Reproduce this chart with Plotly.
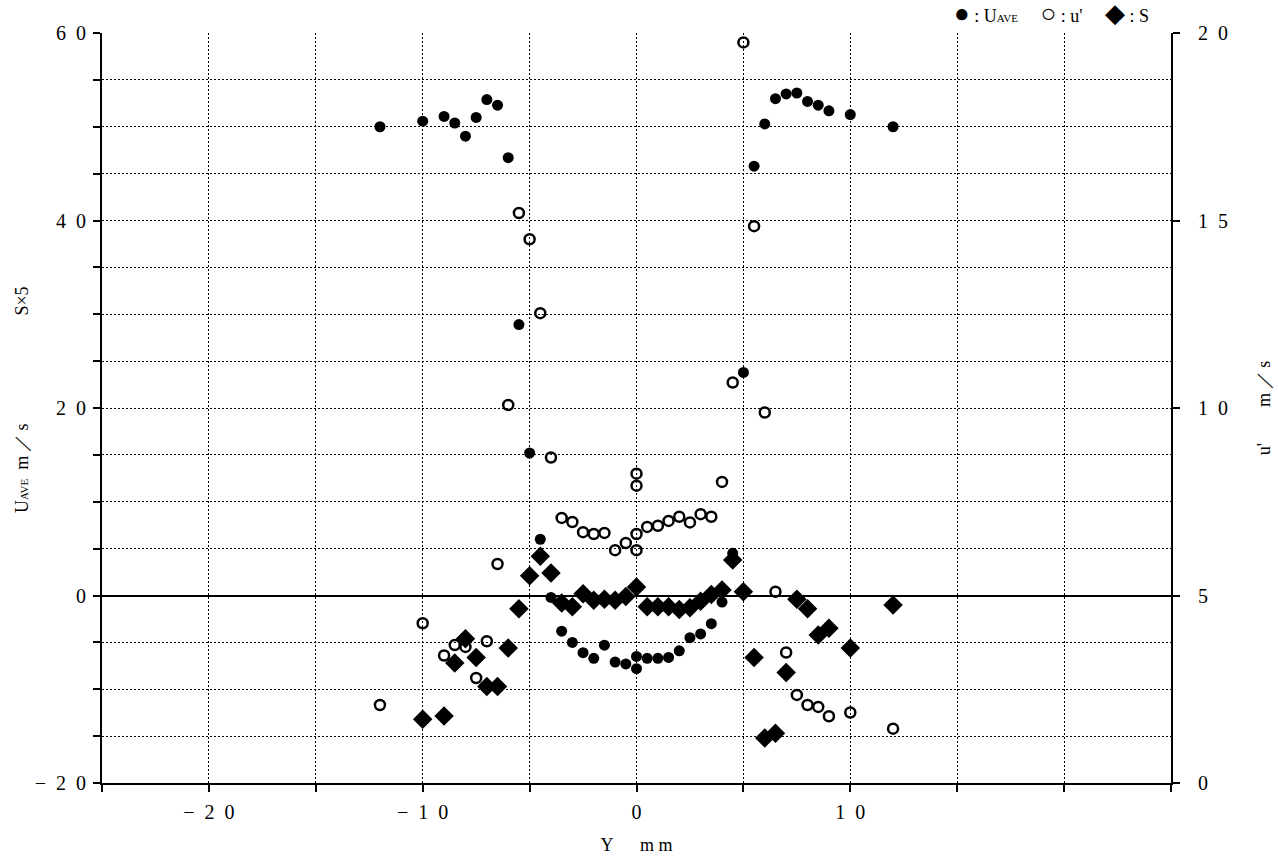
import plotly.graph_objects as go

# ---- data ----
# U_AVE  (m/s, left axis)
x_u = [-12, -10, -9, -8.5, -8, -7.5, -7, -6.5, -6, -5.5, -5, -4.5, -4, -3.5, -3, -2.5, -2, -1.5, -1, -0.5,
       0, 0, 0.5, 1, 1.5, 2, 2.5, 3, 3.5, 4, 4.5, 5, 5.5, 6, 6.5, 7, 7.5, 8, 8.5, 9, 10, 12]
u_ave = [50.0, 50.6, 51.1, 50.4, 49.0, 51.0, 52.9, 52.3, 46.7, 28.9, 15.2, 6.0, -0.2, -3.8, -5.0, -6.1, -6.7, -5.3, -7.1, -7.3,
         -6.5, -7.8, -6.7, -6.7, -6.6, -5.9, -4.5, -4.1, -3.0, -0.7, 4.5, 23.8, 45.8, 50.3, 53.0, 53.5, 53.6, 52.7, 52.3, 51.7, 51.3, 50.0]

# u'  (m/s, right axis)
x_up = [-12, -10, -9, -8.5, -8, -7.5, -7, -6.5, -6, -5.5, -5, -4.5, -4, -3.5, -3, -2.5, -2, -1.5, -1, -0.5,
        0, 0, 0, 0, 0.5, 1, 1.5, 2, 2.5, 3, 3.5, 4, 4.5, 5, 5.5, 6, 6.5, 7, 7.5, 8, 8.5, 9, 10, 12]
u_prime = [2.08, 4.26, 3.40, 3.68, 3.63, 2.80, 3.78, 5.84, 10.08, 15.20, 14.50, 12.53, 8.68, 7.07, 6.96, 6.69, 6.64, 6.67, 6.21, 6.40,
           8.25, 7.93, 6.64, 6.21, 6.83, 6.86, 6.99, 7.10, 6.95, 7.17, 7.10, 8.03, 10.68, 19.75, 14.85, 9.88, 5.10, 3.48, 2.35, 2.08, 2.03, 1.78, 1.88, 1.45]

# S x 5  (left axis)
x_s = [-10, -9, -8.5, -8, -7.5, -7, -6.5, -6, -5.5, -5, -4.5, -4, -3.5, -3, -2.5, -2, -1.5, -1, -0.5, 0,
       0.5, 1, 1.5, 2, 2.5, 3, 3.5, 4, 4.5, 5, 5.5, 6, 6.5, 7, 7.5, 8, 8.5, 9, 10, 12]
s_x5 = [-13.2, -12.85, -7.2, -4.6, -6.6, -9.7, -9.7, -5.6, -1.4, 2.1, 4.2, 2.4, -0.8, -1.2, 0.2, -0.5, -0.4, -0.5, -0.1, 0.9,
        -1.2, -1.2, -1.2, -1.5, -1.3, -0.6, 0.1, 0.6, 3.8, 0.4, -6.6, -15.2, -14.7, -8.2, -0.4, -1.4, -4.2, -3.5, -5.6, -1.0]

# ticks
SP = "\u2002"
x_tick_vals = [-25, -20, -15, -10, -5, 0, 5, 10, 15, 20, 25]
x_tick_text = ["", "\u2212" + SP + "2" + SP + "0", "", "\u2212" + SP + "1" + SP + "0", "", "0", "", "1" + SP + "0", "", "", ""]
y_tick_vals = [-20, -15, -10, -5, 0, 5, 10, 15, 20, 25, 30, 35, 40, 45, 50, 55, 60]
y_tick_text = ["\u2212" + SP + "2" + SP + "0", "", "", "", "0", "", "", "", "2" + SP + "0", "", "", "",
               "4" + SP + "0", "", "", "", "6" + SP + "0"]
y2_tick_vals = [0, 5, 10, 15, 20]
y2_tick_text = ["0", "5", "1" + SP + "0", "1" + SP + "5", "2" + SP + "0"]

FONT = "Liberation Serif, DejaVu Serif, serif"

fig = go.Figure()
fig.add_trace(go.Scatter(x=x_u, y=u_ave, mode="markers", name="U_AVE",
                         marker=dict(symbol="circle", size=11, color="black"), yaxis="y"))
fig.add_trace(go.Scatter(x=x_s, y=s_x5, mode="markers", name="S",
                         marker=dict(symbol="diamond", size=15, color="black"), yaxis="y"))
fig.add_trace(go.Scatter(x=x_up, y=u_prime, mode="markers", name="u'",
                         marker=dict(symbol="circle-open", size=10, color="black", line=dict(width=2.5, color="black")),
                         yaxis="y2"))

grid_dash = "2px,2px"
fig.update_layout(
    template="none",
    width=1278, height=866,
    margin=dict(l=102, r=107, t=33, b=83, autoexpand=False),
    paper_bgcolor="white", plot_bgcolor="white",
    showlegend=False,
    font=dict(family=FONT, color="black", size=20),
    xaxis=dict(range=[-25, 25], tickmode="array", tickvals=x_tick_vals, ticktext=x_tick_text,
               showline=True, linecolor="black", linewidth=2, ticks="outside", ticklen=7, tickwidth=1.5,
               tickcolor="black", showgrid=True, gridcolor="black", gridwidth=1, griddash=grid_dash,
               zeroline=False, tickfont=dict(size=20), ticklabelstandoff=3, automargin=False,
               title=dict(text="Y\u3000\u2002m m", font=dict(size=18), standoff=16)),
    yaxis=dict(range=[-20, 60], tickmode="array", tickvals=y_tick_vals, ticktext=y_tick_text,
               showline=True, linecolor="black", linewidth=2, ticks="outside", ticklen=7, tickwidth=1.5,
               tickcolor="black", showgrid=True, gridcolor="black", gridwidth=1, griddash=grid_dash,
               zeroline=True, zerolinecolor="black", zerolinewidth=1.5, tickfont=dict(size=20),
               ticklabelstandoff=3, automargin=False),
    yaxis2=dict(range=[0, 20], overlaying="y", side="right", tickmode="array", tickvals=y2_tick_vals,
                ticktext=y2_tick_text, showline=True, linecolor="black", linewidth=2, ticks="outside",
                ticklen=7, tickwidth=1.5, tickcolor="black", showgrid=False, zeroline=False,
                tickfont=dict(size=20), ticklabelstandoff=14, automargin=False,
                title=dict(text="u'\u3000\u3000m\u2009\uff0f\u2009s", font=dict(size=18), standoff=30)),
)
# left axis title (placed as a rotated annotation)
fig.add_annotation(x=0, y=(783 - 400) / 750, xref="paper", yref="paper", xshift=-80,
                   xanchor="center", yanchor="middle", textangle=-90, showarrow=False,
                   text="U<span style='font-size:11px'>AVE</span>\u2002m\u2009\uff0f\u2009s"
                        "\u3000\u3000\u3000\u3000\u3000\u3000S\u00d75",
                   font=dict(size=18, family=FONT))
# legend text
fig.add_annotation(x=1.0, y=1 + 19 / 750, xref="paper", yref="paper",
                   xanchor="right", yanchor="middle", xshift=-20,
                   text="<span style='font-size:26px'>\u25cf</span> : U<span style='font-size:11px'>AVE</span>"
                        "\u3000 <span style='font-size:26px'>\u25cb</span> : u'"
                        "\u3000 <span style='font-size:26px'>\u25c6</span> : S",
                   showarrow=False, font=dict(size=18, family=FONT))

fig.write_html("out.html")
